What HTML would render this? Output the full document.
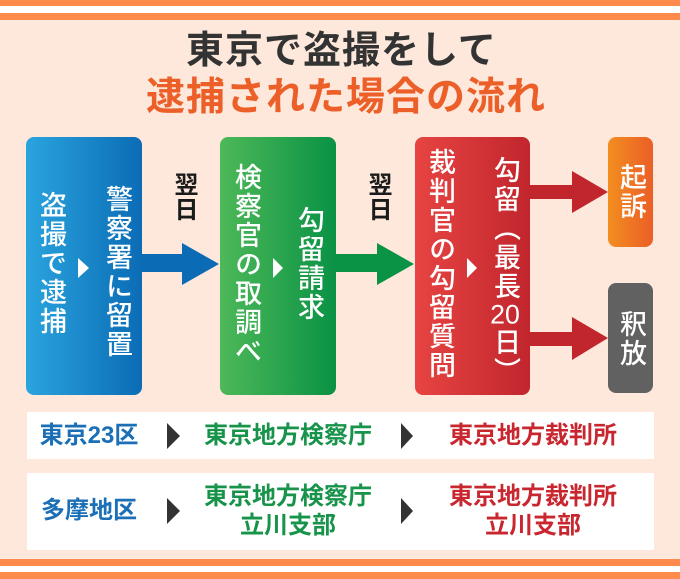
<!DOCTYPE html>
<html><head><meta charset="utf-8">
<style>
html,body{margin:0;padding:0;}
body{width:680px;height:579px;position:relative;overflow:hidden;background:#fde8db;font-family:"Liberation Sans","Noto Sans CJK JP",sans-serif;}
.abs{position:absolute;}
.t{position:absolute;white-space:nowrap;line-height:1;font-weight:bold;}
.v{position:absolute;writing-mode:vertical-rl;line-height:1;white-space:nowrap;color:#fff;font-size:27px;letter-spacing:2px;font-weight:500;width:27px;text-align:start;}
.tcu{text-combine-upright:all;}
.c{text-align:center;}
</style></head>
<body>
<!-- stripes -->
<div class="abs" style="left:0;top:0;width:680px;height:6px;background:#fe8a4c"></div>
<div class="abs" style="left:0;top:6px;width:680px;height:7px;background:#fff"></div>
<div class="abs" style="left:0;top:13px;width:680px;height:7px;background:#fe8a4c"></div>
<div class="abs" style="left:0;top:559px;width:680px;height:7px;background:#fe8a4c"></div>
<div class="abs" style="left:0;top:566px;width:680px;height:6px;background:#fff"></div>
<div class="abs" style="left:0;top:572px;width:680px;height:7px;background:#fe8a4c"></div>

<!-- title -->
<div class="t" style="left:186px;top:32px;font-size:38px;letter-spacing:1px;color:#333">東京で盗撮をして</div>
<div class="t" style="left:146px;top:78px;font-size:39px;letter-spacing:1px;color:#ec5f28">逮捕された場合の流れ</div>

<svg class="abs" style="left:0;top:0" width="680" height="579" viewBox="0 0 680 579">
<defs>
<linearGradient id="gb" x1="0" x2="1" y1="0" y2="0"><stop offset="0" stop-color="#2aa4de"/><stop offset="1" stop-color="#0b6cb5"/></linearGradient>
<linearGradient id="gg" x1="0" x2="1" y1="0" y2="0"><stop offset="0" stop-color="#4db858"/><stop offset="1" stop-color="#0a9245"/></linearGradient>
<linearGradient id="gr" x1="0" x2="1" y1="0" y2="0"><stop offset="0" stop-color="#e74442"/><stop offset="1" stop-color="#c1262d"/></linearGradient>
<linearGradient id="go" x1="0" x2="1" y1="0" y2="0"><stop offset="0" stop-color="#f28e20"/><stop offset="1" stop-color="#eb5e27"/></linearGradient>
</defs>
<!-- arrows -->
<rect x="140" y="254" width="44" height="18" fill="#0b6cb5"/>
<polygon points="182,243 219,264 182,285" fill="#0b6cb5"/>
<rect x="334" y="254" width="45" height="18" fill="#0a9245"/>
<polygon points="377,243 414,264 377,285" fill="#0a9245"/>
<rect x="528" y="185" width="46" height="14" fill="#c1262d"/>
<polygon points="572,171 608,192 572,213" fill="#c1262d"/>
<rect x="528" y="332" width="46" height="14" fill="#c1262d"/>
<polygon points="572,317 608,338 572,360" fill="#c1262d"/>
<!-- boxes -->
<rect x="26" y="137" width="116" height="258" rx="8" fill="url(#gb)"/>
<rect x="220" y="137" width="116" height="258" rx="8" fill="url(#gg)"/>
<rect x="415" y="137" width="115" height="258" rx="8" fill="url(#gr)"/>
<rect x="608" y="137" width="45" height="110" rx="8" fill="url(#go)"/>
<rect x="608" y="283" width="45" height="110" rx="8" fill="#616161"/>
<!-- white triangles -->
<polygon points="78,258 89,268 78,278" fill="#fff"/>
<polygon points="273,258 283,268 273,278" fill="#fff"/>
<polygon points="467,258 477,268 467,278" fill="#fff"/>
<!-- bottom panels -->
<rect x="27" y="412" width="627" height="47" fill="#fff"/>
<rect x="27" y="473" width="627" height="77" fill="#fff"/>
<polygon points="167,423 180,436 167,449" fill="#333"/>
<polygon points="401,423 413,436 401,449" fill="#333"/>
<polygon points="167,498 180,511 167,524" fill="#333"/>
<polygon points="401,498 413,511 401,524" fill="#333"/>
</svg>

<!-- 翌日 labels -->
<div class="v" style="left:171px;top:172px;width:24px;font-size:24px;letter-spacing:1px;color:#1a1a1a;font-weight:bold">翌日</div>
<div class="v" style="left:365px;top:172px;width:24px;font-size:24px;letter-spacing:1px;color:#1a1a1a;font-weight:bold">翌日</div>

<!-- box texts -->
<div class="v" style="left:37px;top:191px">盗撮で逮捕</div>
<div class="v" style="left:103px;top:185px">警察署に留置</div>
<div class="v" style="left:232px;top:163px">検察官の取調べ</div>
<div class="v" style="left:295px;top:206px">勾留請求</div>
<div class="v" style="left:426px;top:148px">裁判官の勾留質問</div>
<div class="v" style="left:491px;top:156px">勾留（最長<span class="tcu">20</span>日）</div>
<div class="v" style="left:617px;top:163px">起訴</div>
<div class="v" style="left:617px;top:310px">釈放</div>

<!-- bottom texts -->
<div class="t c" style="left:-11px;width:200px;top:424px;font-size:24px;color:#1b6fb6">東京23区</div>
<div class="t c" style="left:188px;width:200px;top:424px;font-size:24px;color:#17934a">東京地方検察庁</div>
<div class="t c" style="left:433px;width:200px;top:424px;font-size:24px;color:#c9272f">東京地方裁判所</div>

<div class="t c" style="left:-11px;width:200px;top:499px;font-size:24px;color:#1b6fb6">多摩地区</div>
<div class="t c" style="left:188px;width:200px;top:485px;font-size:24px;color:#17934a">東京地方検察庁</div>
<div class="t c" style="left:188px;width:200px;top:514px;font-size:24px;color:#17934a">立川支部</div>
<div class="t c" style="left:433px;width:200px;top:485px;font-size:24px;color:#c9272f">東京地方裁判所</div>
<div class="t c" style="left:433px;width:200px;top:514px;font-size:24px;color:#c9272f">立川支部</div>
</body></html>
